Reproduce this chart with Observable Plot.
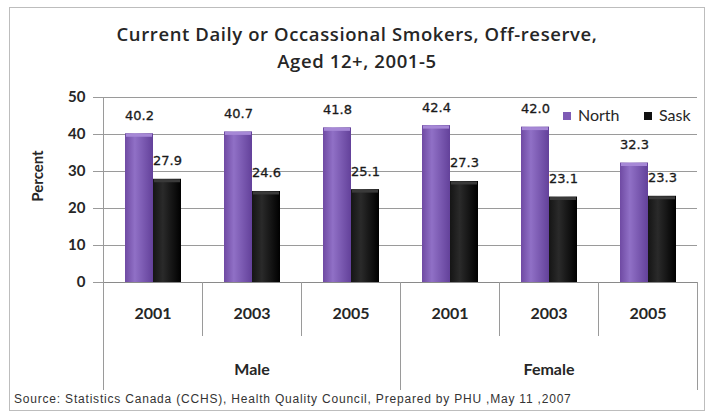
<!DOCTYPE html>
<html>
<head>
<meta charset="utf-8">
<script src="https://cdn.jsdelivr.net/npm/d3@7"></script>
<script src="https://cdn.jsdelivr.net/npm/@observablehq/plot@0.6"></script>
<style>
  body { margin: 0; background: #fff; }
  #chart { position: relative; width: 714px; height: 414px; overflow: hidden; background: #fff; }
  #box { position: absolute; left: 9px; top: 7px; width: 696px; height: 404px; box-sizing: border-box; border: 1px solid #bdbdbd; }
  #title { position: absolute; left: 0; top: 20px; width: 714px; text-align: center; font: 600 18.5px/27px "Open Sans", sans-serif; letter-spacing: 0.6px; color: #262626; }
  #plot { position: absolute; left: 0; top: 80px; }
  #legend { position: absolute; left: 0; top: 105px; font: 16px Lato, sans-serif; color: #262626; white-space: nowrap; }
  #legend span.item { position: absolute; top: 0; }
  #legend span.sw { display: inline-block; width: 8px; height: 8px; margin-right: 7px; vertical-align: 1px; }
  #source { position: absolute; left: 14px; top: 392px; font: 12px "Liberation Sans", Arial, sans-serif; letter-spacing: 0.8px; color: #333; white-space: nowrap; }
</style>
</head>
<body>
<div id="chart">
  <div id="box"></div>
  <div id="title">Current Daily or Occassional Smokers, Off-reserve,<br>Aged 12+, 2001-5</div>
  <div id="plot"></div>
  <div id="legend"></div>
  <div id="source">Source: Statistics Canada (CCHS), Health Quality Council, Prepared by PHU ,May 11 ,2007</div>
</div>
<script>
// Smoking rates (percent), off-reserve population aged 12+
const sexes = ["Male", "Female"];
const years = ["2001", "2003", "2005"];
const series = ["North", "Sask"];
const north = [40.2, 40.7, 41.8, 42.4, 42.0, 32.3]; // Male 2001..2005, Female 2001..2005
const sask = [27.9, 24.6, 25.1, 27.3, 23.1, 23.3];
const yTicks = [0, 10, 20, 30, 40, 50];

// one facet per sex/year pair
const keys = sexes.flatMap(s => years.map(y => `${s}-${y}`));
const rows = keys.flatMap((key, i) => [
  {key, series: "North", value: north[i]},
  {key, series: "Sask", value: sask[i]}
]);

const W = 714, H = 320, mL = 103, mR = 17, mT = 17, mB = 118;
const frameH = H - mT - mB;
const facetW = (W - mL - mR) / keys.length;
const lineColor = "#9a9a9a";
const ink = "#262626";
const fills = {North: "url(#gradNorth)", Sask: "url(#gradSask)"};
const caps = {North: "#a688d6", Sask: "#3a3a3a"};
const swatch = {North: "#7e5bb5", Sask: "#111"};
const legendLeft = {North: 563, Sask: 644};

const yearOf = k => k.split("-")[1];
const firstYear = k => yearOf(k) === years[0];

const svg = Plot.plot({
  width: W, height: H,
  marginLeft: mL, marginRight: mR, marginTop: mT, marginBottom: mB,
  style: {fontFamily: "Lato, sans-serif", color: ink, background: "transparent", overflow: "visible"},
  fx: {domain: keys, paddingInner: 0, paddingOuter: 0, axis: null, label: null},
  x: {domain: series, paddingInner: 0, paddingOuter: 0.707, axis: null},
  y: {domain: [0, 50], axis: null},
  marks: [
    Plot.gridY(yTicks, {stroke: lineColor, strokeOpacity: 1}),
    Plot.ruleY([0], {stroke: "#8a8a8a"}),
    Plot.axisY(yTicks, {tickSize: 10, tickPadding: 8, stroke: lineColor, fill: ink, fontSize: 15, fontWeight: 700, label: null}),
    Plot.text(["Percent"], {fx: () => keys[0], frameAnchor: "left", textAnchor: "middle", text: d => d, rotate: -90, dx: -65, dy: -14, fontSize: 15, fontWeight: 700, fill: ink}),
    // vertical axis line and category separators under the baseline
    Plot.ruleX([keys[0]], {fx: d => d, x: null, dx: -facetW / 2, insetBottom: -108, stroke: lineColor}),
    Plot.ruleX(keys.filter(k => !firstYear(k)), {fx: d => d, x: null, dx: -facetW / 2, insetTop: frameH, insetBottom: -54, stroke: lineColor}),
    Plot.ruleX(keys.filter((k, i) => i > 0 && firstYear(k)), {fx: d => d, x: null, dx: -facetW / 2, insetTop: frameH, insetBottom: -108, stroke: lineColor}),
    Plot.ruleX([keys[keys.length - 1]], {fx: d => d, x: null, dx: facetW / 2, insetTop: frameH, insetBottom: -108, stroke: lineColor}),
    // bars with a lighter top rim
    ...series.map(s => Plot.barY(rows.filter(d => d.series === s), {fx: "key", x: "series", y: "value", fill: fills[s]})),
    ...series.map(s => Plot.tickY(rows.filter(d => d.series === s), {fx: "key", x: "series", y: "value", stroke: caps[s], strokeWidth: 3, dy: 1.5, insetLeft: 1, insetRight: 1})),
    Plot.text(rows, {fx: "key", x: "series", y: "value", text: d => d.value.toFixed(1), dy: -14, lineAnchor: "bottom", fontFamily: "DejaVu Sans, sans-serif", fontSize: 13, fill: "#1a1a1a", stroke: "#1a1a1a", strokeWidth: 0.3}),
    // year and sex labels
    Plot.text(keys, {fx: d => d, text: yearOf, frameAnchor: "bottom", dy: 31, lineAnchor: "middle", fontSize: 16, fontWeight: 700, fill: ink}),
    Plot.text(sexes, {fx: s => `${s}-${years[1]}`, text: d => d, frameAnchor: "bottom", dy: 87, lineAnchor: "middle", fontSize: 16, fontWeight: 700, fill: ink})
  ]
});

d3.select(svg).insert("defs", ":first-child").html(`
  <linearGradient id="gradNorth" x1="0" x2="1" y1="0" y2="0">
    <stop offset="0" stop-color="#6f4aa3"/>
    <stop offset="0.35" stop-color="#9070c6"/>
    <stop offset="1" stop-color="#63419a"/>
  </linearGradient>
  <linearGradient id="gradSask" x1="0" x2="1" y1="0" y2="0">
    <stop offset="0" stop-color="#151515"/>
    <stop offset="0.35" stop-color="#2a2a2a"/>
    <stop offset="1" stop-color="#000"/>
  </linearGradient>`);

document.getElementById("plot").appendChild(svg);

const legend = d3.select("#legend");
series.forEach(s => {
  const item = legend.append("span").attr("class", "item").style("left", legendLeft[s] + "px");
  item.append("span").attr("class", "sw").style("background", swatch[s]);
  item.append("span").text(s);
});
</script>
</body>
</html>
